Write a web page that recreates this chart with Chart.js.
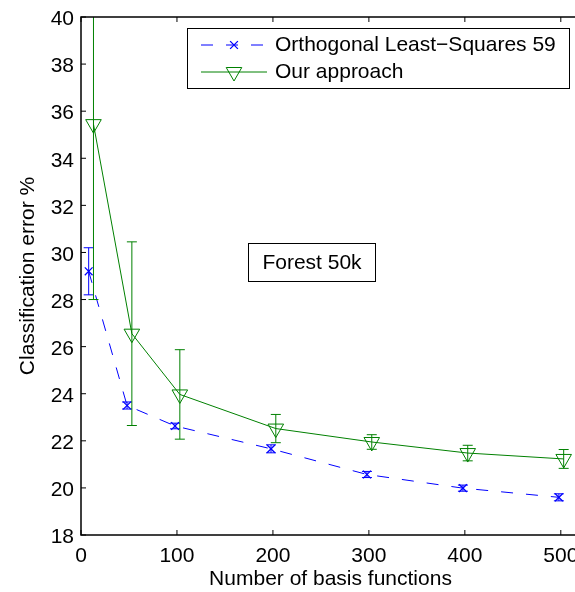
<!DOCTYPE html>
<html><head><meta charset="utf-8">
<script src="https://cdn.jsdelivr.net/npm/chart.js@4.4.0/dist/chart.umd.min.js"></script>
<style>html,body{margin:0;padding:0;background:#fff;overflow:hidden;width:575px;height:592px}canvas{display:block}</style>
</head><body>
<canvas id="c" width="590" height="592"></canvas>
<script>
// ---- data ----
const olsX = [8, 48, 98, 198, 298, 398, 498];
const olsY = [29.2, 23.5, 22.63, 21.66, 20.57, 19.99, 19.6];
const olsErr = [1.0, 0.15, 0.12, 0.17, 0.13, 0.13, 0.15];
const oursX = [13, 53, 103, 203, 303, 403, 503];
const oursY = [35.45, 26.55, 23.97, 22.52, 21.95, 21.48, 21.23];
const oursErr = [7.45, 3.9, 1.9, 0.6, 0.31, 0.33, 0.4];
const xTicks = [0, 100, 200, 300, 400, 500];
const yTicks = [18, 20, 22, 24, 26, 28, 30, 32, 34, 36, 38, 40];
const seriesLabels = ['Orthogonal Least\u2212Squares 59', 'Our approach'];
const xTitle = 'Number of basis functions';
const yTitle = 'Classification error %';
const noteText = 'Forest 50k';

const FONT = '"Liberation Sans", Arial, Helvetica, sans-serif';
const BLUE = '#0000ff', GREEN = '#008000';
const errors = [olsErr, oursErr];

const matlabPlugin = {
  id: 'matlab',
  afterDatasetsDraw(chart) {
    const ctx = chart.ctx, a = chart.chartArea;
    const xs = chart.scales.x, ys = chart.scales.y;
    ctx.save();
    ctx.beginPath();
    ctx.rect(a.left, a.top, a.right - a.left, a.bottom - a.top);
    ctx.clip();
    chart.data.datasets.forEach((ds, di) => {
      const err = errors[di];
      ctx.strokeStyle = ds.borderColor;
      ctx.lineWidth = 1;
      ds.data.forEach((p, i) => {
        const px = xs.getPixelForValue(p.x);
        const y1 = ys.getPixelForValue(p.y + err[i]);
        const y2 = ys.getPixelForValue(p.y - err[i]);
        ctx.beginPath();
        ctx.moveTo(px, y1); ctx.lineTo(px, y2);
        ctx.moveTo(px - 5, y1); ctx.lineTo(px + 5, y1);
        ctx.moveTo(px - 5, y2); ctx.lineTo(px + 5, y2);
        ctx.stroke();
      });
    });
    ctx.restore();
  },
  afterDraw(chart) {
    const ctx = chart.ctx, a = chart.chartArea;
    const xs = chart.scales.x, ys = chart.scales.y;
    ctx.save();
    // box
    ctx.strokeStyle = '#000';
    ctx.lineWidth = 1.5;
    ctx.strokeRect(a.left, a.top, a.right - a.left, a.bottom - a.top);
    ctx.lineWidth = 1;
    ctx.beginPath();
    xTicks.forEach(v => {
      const px = xs.getPixelForValue(v);
      ctx.moveTo(px, a.bottom); ctx.lineTo(px, a.bottom - 5);
      ctx.moveTo(px, a.top); ctx.lineTo(px, a.top + 5);
    });
    yTicks.forEach(v => {
      const py = ys.getPixelForValue(v);
      ctx.moveTo(a.left, py); ctx.lineTo(a.left + 5, py);
      ctx.moveTo(a.right, py); ctx.lineTo(a.right - 5, py);
    });
    ctx.stroke();

    // x tick labels (drawn from the x scale)
    ctx.fillStyle = '#000';
    ctx.font = '21px ' + FONT;
    ctx.textAlign = 'center';
    ctx.textBaseline = 'alphabetic';
    xTicks.forEach(v => {
      ctx.fillText(String(v), xs.getPixelForValue(v), a.bottom + 27);
    });

    // legend
    const lx = 187.5, ly = 28.5, lw = 382, lh = 60;
    ctx.fillStyle = '#fff';
    ctx.fillRect(lx, ly, lw, lh);
    ctx.strokeStyle = '#000';
    ctx.lineWidth = 1;
    ctx.strokeRect(lx, ly, lw, lh);
    chart.data.datasets.forEach((ds, i) => {
      const y = 45 + i * 27;
      ctx.save();
      ctx.strokeStyle = ds.borderColor;
      ctx.lineWidth = 1;
      ctx.setLineDash(ds.borderDash || []);
      ctx.beginPath();
      ctx.moveTo(201, y); ctx.lineTo(267, y);
      ctx.stroke();
      ctx.setLineDash([]);
      ctx.fillStyle = 'rgba(0,0,0,0)';
      ctx.lineWidth = ds.pointBorderWidth;
      Chart.helpers.drawPoint(ctx, {
        pointStyle: ds.pointStyle, radius: ds.pointRadius,
        rotation: ds.pointRotation || 0, borderWidth: ds.pointBorderWidth
      }, 234, y);
      ctx.restore();
      ctx.fillStyle = '#000';
      ctx.font = '21px ' + FONT;
      ctx.textBaseline = 'middle';
      ctx.textAlign = 'left';
      ctx.fillText(ds.label, 275, y);
    });

    // annotation box
    ctx.fillStyle = '#fff';
    ctx.fillRect(248.5, 243.5, 127, 38);
    ctx.strokeStyle = '#000';
    ctx.strokeRect(248.5, 243.5, 127, 38);
    ctx.fillStyle = '#000';
    ctx.font = '21px ' + FONT;
    ctx.textAlign = 'center';
    ctx.textBaseline = 'middle';
    ctx.fillText(noteText, 312, 263);
    ctx.restore();
  }
};

new Chart(document.getElementById('c'), {
  type: 'line',
  data: {
    datasets: [
      {
        label: seriesLabels[0],
        data: olsX.map((x, i) => ({ x, y: olsY[i] })),
        borderColor: BLUE, borderWidth: 1, borderDash: [12, 13],
        pointStyle: 'crossRot', pointRadius: 5.5, pointBorderColor: BLUE,
        pointBackgroundColor: BLUE, pointBorderWidth: 1.3,
        tension: 0, fill: false
      },
      {
        label: seriesLabels[1],
        data: oursX.map((x, i) => ({ x, y: oursY[i] })),
        borderColor: GREEN, borderWidth: 1,
        pointStyle: 'triangle', pointRotation: 180, pointRadius: 9,
        pointBorderColor: GREEN, pointBackgroundColor: 'rgba(0,0,0,0)',
        pointBorderWidth: 1, tension: 0, fill: false
      }
    ]
  },
  options: {
    responsive: false,
    animation: false,
    devicePixelRatio: 1,
    layout: { padding: { top: 17, right: 2, left: 0, bottom: 0 } },
    plugins: { legend: { display: false }, tooltip: { enabled: false } },
    scales: {
      x: {
        type: 'linear', min: 0, max: 520,
        afterBuildTicks: s => { s.ticks = xTicks.map(v => ({ value: v })); },
        afterFit: s => { s.height = 57; s.paddingLeft = 0; s.paddingRight = 0; },
        grid: { display: false, drawTicks: false },
        border: { display: false },
        ticks: { display: false },
        title: { display: true, text: xTitle, color: '#000', font: { family: FONT, size: 21 }, padding: { top: 0, bottom: 0 } }
      },
      y: {
        type: 'linear', min: 18, max: 40,
        afterBuildTicks: s => { s.ticks = yTicks.map(v => ({ value: v })); },
        afterFit: s => { s.width = 81; s.paddingTop = 0; s.paddingBottom = 0; },
        grid: { display: false, drawTicks: false },
        border: { display: false },
        ticks: { color: '#000', font: { family: FONT, size: 21 }, padding: 7, labelOffset: 2.5, autoSkip: false },
        title: { display: true, text: yTitle, color: '#000', font: { family: FONT, size: 21 }, padding: { top: 16, bottom: 0 } }
      }
    }
  },
  plugins: [matlabPlugin]
});
</script>
</body></html>
